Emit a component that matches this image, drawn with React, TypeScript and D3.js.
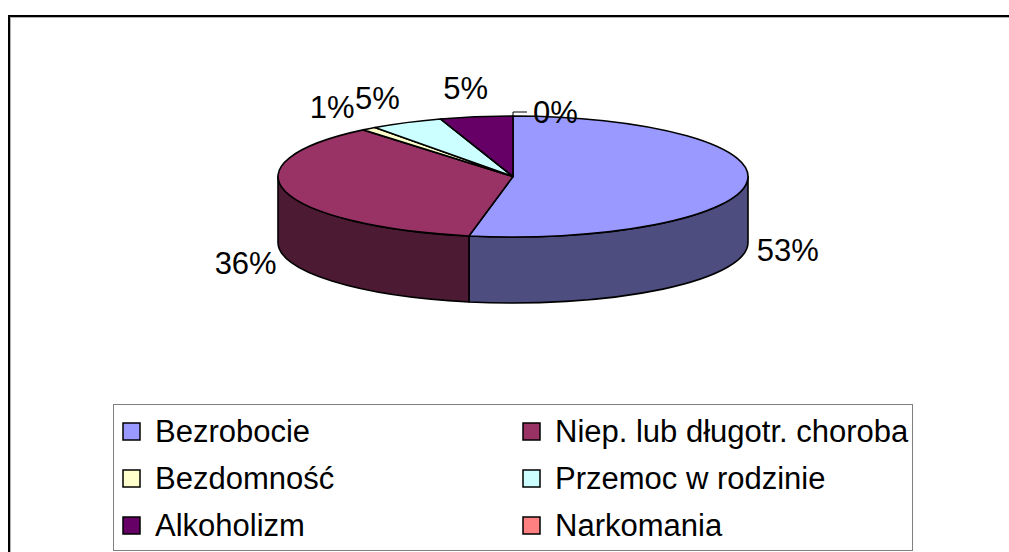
import React from "react";
import * as d3 from "d3";

const categories = [
  "Bezrobocie",
  "Niep. lub długotr. choroba",
  "Bezdomność",
  "Przemoc w rodzinie",
  "Alkoholizm",
  "Narkomania",
];
const values = [53, 36, 1, 5, 5, 0];
const topColors = ["#9999FF", "#993366", "#FFFFCC", "#CCFFFF", "#660066", "#FF8080"];
const sideColors = ["#4D4D80", "#4D1A33", "#80806A", "#6A8080", "#330033", "#804040"];

const W = 1009;
const H = 552;
const FONT = "'Liberation Sans', Arial, sans-serif";
const FS = 31;

function measure(text: string): number {
  if (typeof document === "undefined") return text.length * FS * 0.55;
  const c = document.createElement("canvas").getContext("2d");
  if (!c) return text.length * FS * 0.55;
  c.font = `${FS}px ${FONT}`;
  return c.measureText(text).width;
}

export default function App() {
  const cx = 513;
  const cy = 176.5;
  const rx = 235;
  const ry = 60.5;
  const depth = 66;

  const pie = d3
    .pie<number>()
    .sort(null)
    .value((d) => d);
  const arcs = pie(values);

  const color = d3.scaleOrdinal<number, string>().domain(d3.range(values.length)).range(topColors);
  const sideColor = d3.scaleOrdinal<number, string>().domain(d3.range(values.length)).range(sideColors);

  const px = (a: number) => cx + rx * Math.sin(a);
  const py = (a: number) => cy - ry * Math.cos(a);

  const topPath = (a0: number, a1: number) => {
    const large = a1 - a0 > Math.PI ? 1 : 0;
    return `M${cx},${cy}L${px(a0)},${py(a0)}A${rx},${ry} 0 ${large} 1 ${px(a1)},${py(a1)}Z`;
  };

  const sidePath = (a0: number, a1: number) => {
    const s = Math.max(a0, Math.PI / 2);
    const e = Math.min(a1, (3 * Math.PI) / 2);
    if (e <= s) return null;
    return (
      `M${px(s)},${py(s)}A${rx},${ry} 0 0 1 ${px(e)},${py(e)}` +
      `L${px(e)},${py(e) + depth}A${rx},${ry} 0 0 0 ${px(s)},${py(s) + depth}Z`
    );
  };

  // labels
  const labels = arcs.map((d, i) => {
    const text = `${Math.round(values[i])}%`;
    const w = measure(text);
    if (d.data === 0) {
      const topY = cy - ry;
      return {
        i,
        text,
        x: cx + 20,
        y: topY + 7,
        anchor: "start",
        leader: `M${cx},${topY}L${cx},${topY - 4}L${cx + 14},${topY - 4}`,
      };
    }
    const t = (d.startAngle + d.endAngle) / 2;
    const s = Math.sin(t);
    const c = Math.cos(t);
    const gx = 10 + 35 * Math.max(0, c);
    const gy = 10 + 8 * Math.max(0, c);
    const ax = cx + (rx + gx) * s;
    const ay = cy - (ry + gy) * c + (c < 0 ? depth : 0);
    const tcx = ax + (s * w) / 2;
    const tcy = ay - (c * 22) / 2;
    return { i, text, x: tcx, y: tcy + 11, anchor: "middle", leader: null as string | null };
  });

  // legend
  const lgX = 113;
  const lgY = 404;
  const lgW = 799;
  const lgH = 146;
  const colW = 400;
  const rowH = 47;
  const mk = 17;

  return (
    <svg
      width={W}
      height={H}
      style={{ position: "absolute", left: 0, top: 0, background: "#fff" }}
      fontFamily={FONT}
    >
      <rect x={0} y={0} width={W} height={H} fill="#fff" />
      {/* outer frame */}
      <rect x={9} y={16} width={W + 20} height={H + 20} fill="none" stroke="#000" strokeWidth={2} />
      <rect x={10.5} y={17.5} width={W + 20} height={H + 20} fill="none" stroke="#b0b0b0" strokeWidth={1} />

      {/* sides */}
      {arcs.map((d, i) => {
        const p = sidePath(d.startAngle, d.endAngle);
        return p ? (
          <path key={`s${i}`} d={p} fill={sideColor(i)} stroke="#000" strokeWidth={1.6} strokeLinejoin="round" />
        ) : null;
      })}
      {/* tops */}
      {arcs.map((d, i) =>
        d.endAngle - d.startAngle > 0 ? (
          <path
            key={`t${i}`}
            d={topPath(d.startAngle, d.endAngle)}
            fill={color(i)}
            stroke="#000"
            strokeWidth={1.6}
            strokeLinejoin="round"
          />
        ) : null
      )}

      {/* labels */}
      {labels.map((l) => (
        <g key={`l${l.i}`}>
          {l.leader && <path d={l.leader} fill="none" stroke="#000" strokeWidth={1} />}
          <text x={l.x} y={l.y} fontSize={FS} textAnchor={l.anchor as any} fill="#000">
            {l.text}
          </text>
        </g>
      ))}

      {/* legend */}
      <rect x={lgX + 0.5} y={lgY + 0.5} width={lgW} height={lgH} fill="#fff" stroke="#808080" strokeWidth={1} />
      {categories.map((cat, i) => {
        const col = i % 2;
        const row = Math.floor(i / 2);
        const mx = lgX + 10 + col * colW;
        const my = lgY + 27.5 + row * rowH;
        return (
          <g key={`lg${i}`}>
            <rect
              x={mx}
              y={my - mk / 2}
              width={mk}
              height={mk}
              fill={color(i)}
              stroke="#000"
              strokeWidth={1.5}
            />
            <text x={mx + 32} y={my + 10.5} fontSize={FS} fill="#000">
              {cat}
            </text>
          </g>
        );
      })}
    </svg>
  );
}
